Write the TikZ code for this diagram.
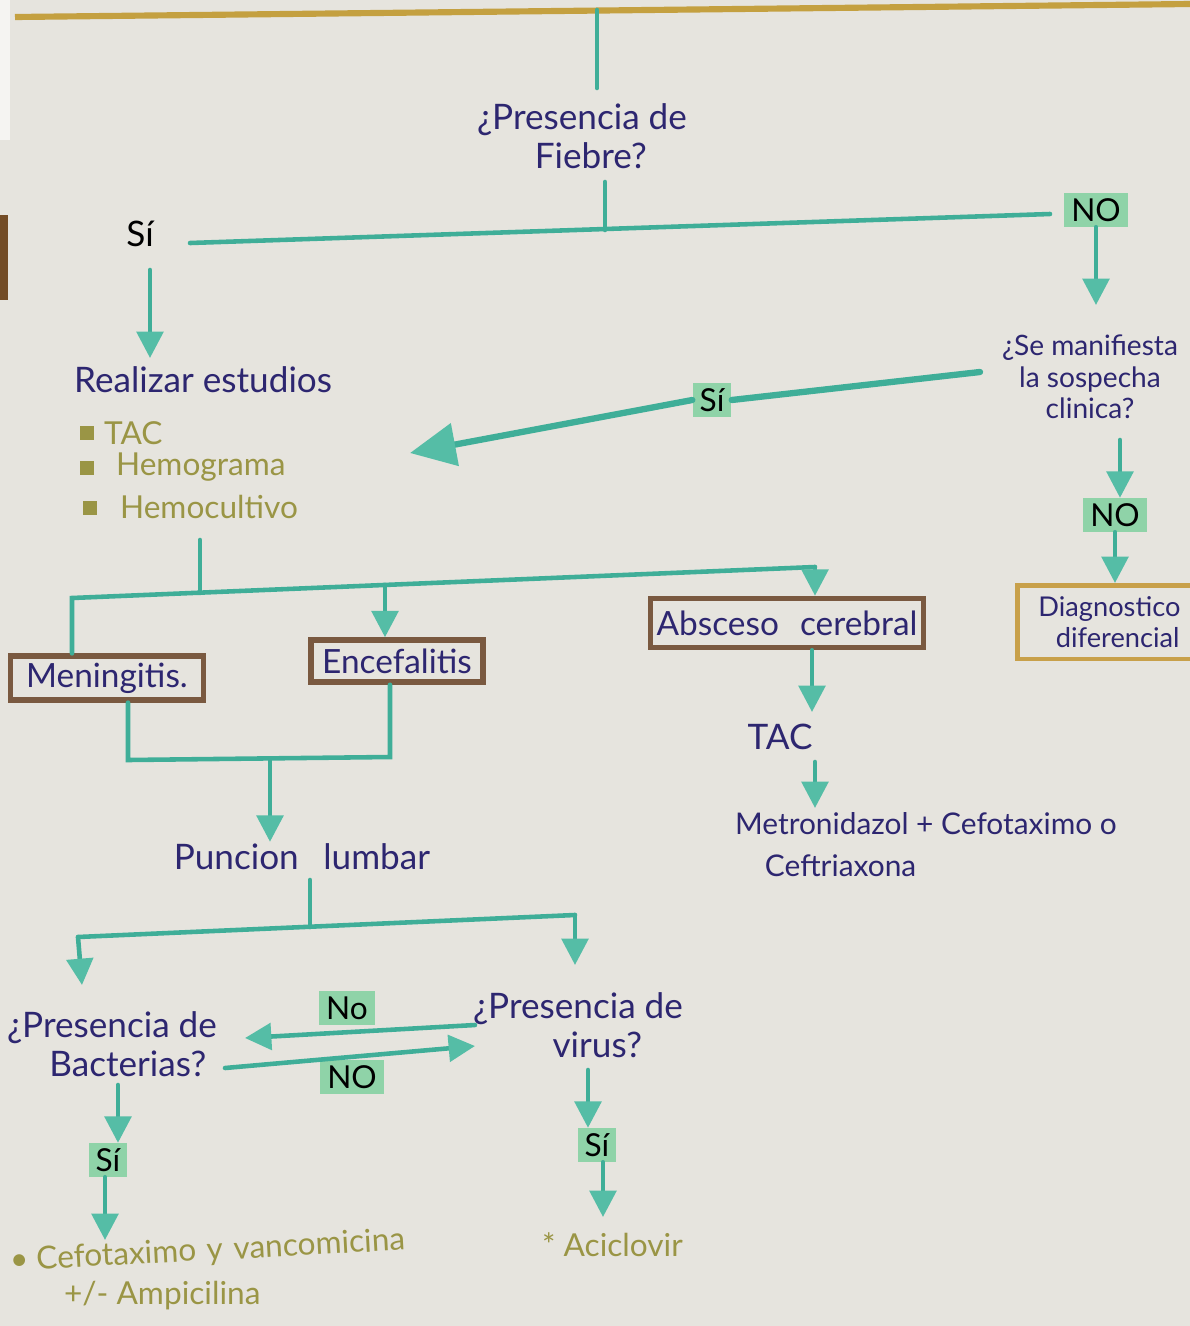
\documentclass[tikz,border=0pt]{standalone}
\usepackage{fontspec}
\setmainfont{Lato}
\usetikzlibrary{arrows.meta,calc}
\definecolor{paper}{HTML}{E6E4DE}
\definecolor{tealline}{HTML}{3FAE98}
\definecolor{tealhead}{HTML}{55BDA6}
\definecolor{hlgreen}{HTML}{8FD3A8}
\definecolor{navyink}{HTML}{2D2670}
\definecolor{brownbox}{HTML}{7A5940}
\definecolor{goldbox}{HTML}{C8A04A}
\definecolor{oliveink}{HTML}{9A9545}
\definecolor{mustard}{HTML}{C4A040}
\begin{document}
\begin{tikzpicture}[x=0.02cm,y=-0.02cm,
  flow/.style={draw=tealline, line width=2.6pt, line cap=round},
  thickflow/.style={draw=tealline, line width=3.6pt, line cap=round},
  arr/.style={flow, -{Triangle[length=15pt,width=15pt,color=tealhead]}},
  bigarr/.style={thickflow, -{Triangle[length=26pt,width=24pt,color=tealhead]}},
  q/.style={text=navyink, align=center, font=\fontsize{20}{22}\selectfont, inner sep=1pt},
  qs/.style={text=navyink, align=center, font=\fontsize{16}{18}\selectfont, inner sep=1pt},
  oli/.style={text=oliveink, align=left, font=\fontsize{18}{22}\selectfont, inner sep=1pt},
  hl/.style={fill=hlgreen, text=black, font=\fontsize{18}{20}\selectfont, inner xsep=4pt, inner ysep=3pt},
  plain/.style={text=black, font=\fontsize{20}{22}\selectfont, inner sep=1pt},
  bbox/.style={draw=brownbox, line width=3pt, text=navyink, font=\fontsize{19}{21}\selectfont, inner sep=2pt},
  gbox/.style={draw=goldbox, line width=2.6pt, text=navyink, align=left, font=\fontsize{15.5}{18}\selectfont, inner ysep=3pt, inner xsep=12pt},
  bul/.style={fill=oliveink, minimum size=8pt, inner sep=0pt}
]
\fill[paper] (0,0) rectangle (1190,1326);
\useasboundingbox (0,0) rectangle (1190,1326);
\clip (0,0) rectangle (1190,1326);
\fill[white!60!paper] (0,0) rectangle (10,140);
\fill[brown!60!black] (0,215) rectangle (8,300);

% top rule
\coordinate (mL) at (15,17);
\coordinate (mR) at (1190,4);
\draw[mustard, line width=3.5pt] (mL) -- (mR);
\coordinate (top) at (597,10);

% Fiebre question
\node[q] (fiebre) at (582,136) {¿Presencia de\\\hspace*{10pt}Fiebre?};
\coordinate (topend) at (597,88);
\draw[flow] (top) -- (topend);
\coordinate (j1t) at (605,182);
\coordinate (j1) at (605,230);
\draw[flow] (j1t) -- (j1);

\node[plain] (si1) at (140,234) {Sí};
\node[hl] (no1) at (1096,210) {NO};
\coordinate (hL) at (190,243);
\coordinate (hR) at (1050,214);
\draw[flow] (hL) -- (hR);

% NO branch
\node[qs] (clin) at (1090,377) {¿Se manifiesta\\la sospecha\\clinica?};
\draw[arr] (no1.south) -- (no1.south |- 0,305);

% SI branch
\node[q, anchor=west] (est) at (72,380) {Realizar estudios};
\draw[arr] (150,270) -- (150,358);
\node[bul] (b1) at (87,433) {};
\node[bul] (b2) at (87,468) {};
\node[bul] (b3) at (90,508) {};
\node[oli, anchor=west] (tac1) at (102,433) {TAC};
\node[oli, anchor=west] (hemog) at (114,467) {Hemograma};
\node[oli, anchor=west] (hemoc) at (118,507) {Hemocultivo};

% clinic SI
\node[hl] (si2) at (712,400) {Sí};
\coordinate (clinL) at (980,372);
\draw[thickflow] (clinL) -- (si2.east);
\coordinate (bigtip) at (410,453);
\draw[bigarr] (si2.west) -- (bigtip);

% clinic NO
\node[hl] (no2) at (1115,515) {NO};
\coordinate (c3) at (1120,440);
\draw[arr] (c3) -- (c3 |- no2.north);
\node[gbox, text width=100pt, minimum height=42pt, anchor=north west] (diag) at (1015,583) {Diagnostico\\\hspace*{10pt}diferencial};
\draw[arr] (no2.south) -- (no2.south |- diag.north);

% studies branch
\coordinate (bJt) at (200,540);
\coordinate (bJ) at (200,593);
\coordinate (bL) at (72,598);
\coordinate (bE) at (385,585);
\coordinate (bR) at (815,567);
\node[bbox, minimum width=110pt, minimum height=25pt] (mening) at (107,678) {Meningitis.};
\node[bbox, minimum width=98pt, minimum height=24pt] (enc) at (397,661) {Encefalitis};
\node[bbox, minimum width=155pt, minimum height=28pt] (absc) at (787,623) {Absceso\hspace{12pt}cerebral};
\draw[flow] (bJt) -- (bJ);
\draw[flow] (mening.north -| bL) -- (bL) -- (bR);
\draw[arr] (bR) -- (bR |- absc.north);
\draw[arr] (bE) -- (bE |- enc.north);

% merge to puncion
\coordinate (mgL) at (128,760);
\coordinate (mgR) at (390,757);
\coordinate (mgJ) at (270,759);
\draw[flow] (mening.south -| mgL) -- (mgL) -- (mgR) -- (enc.south -| mgR);
\node[q] (pun) at (302,857) {Puncion\hspace{14pt}lumbar};
\draw[arr] (mgJ) -- (mgJ |- pun.north);

% absceso chain
\node[q] (tac2) at (780,737) {TAC};
\draw[arr] (absc.south -| 812,0) -- (812,712);
\node[qs, align=left, anchor=north west, font=\fontsize{17}{24}\selectfont] (metro) at (733,810) {Metronidazol + Cefotaximo o\\\hspace*{17pt}Ceftriaxona};
\draw[arr] (815,762) -- (815,808);

% puncion branch
\coordinate (pJt) at (310,880);
\coordinate (pJ) at (310,927);
\coordinate (pL) at (78,937);
\coordinate (pR) at (575,915);
\draw[flow] (pJt) -- (pJ);
\draw[flow] (pL) -- (pR);
\node[q] (bact) at (112,1044) {¿Presencia de\\\hspace*{18pt}Bacterias?};
\node[q] (virus) at (578,1025) {¿Presencia de\\\hspace*{22pt}virus?};
\draw[arr] (pL) -- (82,985);
\draw[arr] (pR) -- (575,965);

% between questions
\node[hl] (nox) at (347,1008) {No};
\node[hl] (noy) at (352,1077) {NO};
\coordinate (c1s) at (475,1025);
\coordinate (c1e) at (245,1038);
\coordinate (c2s) at (225,1068);
\coordinate (c2e) at (475,1046);
\draw[arr] (c1s) -- (c1e);
\draw[arr] (c2s) -- (c2e);

% bacteria yes
\node[hl] (si3) at (108,1160) {Sí};
\draw[arr] (118,1085) -- (si3.north -| 118,0);
\node[oli, anchor=west, rotate=3] (cefo) at (8,1262) {• Cefotaximo\hspace{6pt}y\hspace{6pt}vancomicina};
\node[oli, anchor=west] (ampi) at (62,1296) {+/- Ampicilina};
\draw[arr] (si3.south -| 105,0) -- (105,1240);

% virus yes
\node[hl] (si4) at (597,1145) {Sí};
\draw[arr] (588,1070) -- (si4.north -| 588,0);
\node[oli, anchor=west] (acic) at (540,1245) {* Aciclovir};
\draw[arr] (si4.south -| 603,0) -- (603,1217);
\end{tikzpicture}
\end{document}
